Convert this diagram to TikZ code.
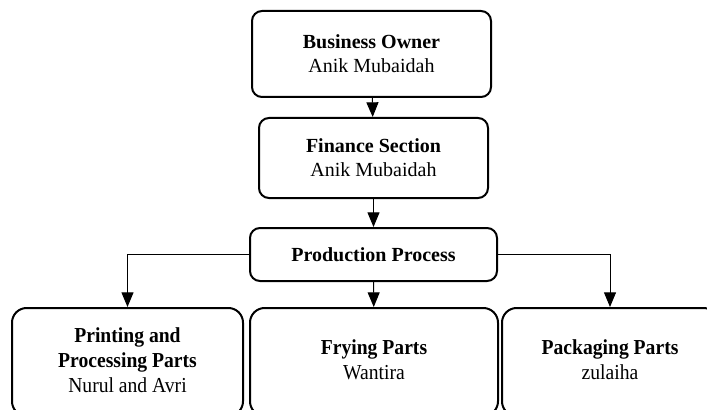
\documentclass[tikz,border=0pt]{standalone}
\usepackage{fontspec}
\setmainfont{Liberation Serif}
\usepackage{graphicx}
\usetikzlibrary{arrows.meta}
\tikzset{
  box/.style={draw, line width=1.5pt, rounded corners=7.5pt, align=center,
    inner sep=0pt, font=\fontsize{15}{18}\selectfont},
  bigbox/.style={box, rounded corners=11pt, font=\fontsize{16}{18.75}\selectfont},
  conn/.style={line width=0.75pt, -{Triangle[length=11pt,width=9pt]}}
}
\newcommand{\narrow}[1]{\scalebox{0.92}[1]{\begin{tabular}{@{}c@{}}#1\end{tabular}}}
\begin{document}
\begin{tikzpicture}[x=0.75pt,y=-0.75pt]
\useasboundingbox (0,0) rectangle (707,410);
\clip (0,0) rectangle (707,410);
\node[box, minimum width=239*0.75pt, minimum height=86*0.75pt] (owner) at (371.5,54)
  {\textbf{Business Owner}\\Anik Mubaidah};
\node[box, minimum width=229*0.75pt, minimum height=80*0.75pt] (finance) at (373.5,158)
  {\textbf{Finance Section}\\Anik Mubaidah};
\node[box, minimum width=247*0.75pt, minimum height=53*0.75pt] (prod) at (373.5,254.5)
  {\textbf{Production Process}};
\node[bigbox, minimum width=231*0.75pt, minimum height=108*0.75pt] (print) at (127.5,362)
  {\narrow{\textbf{Printing and}\\\textbf{Processing Parts}\\Nurul and Avri}};
\node[bigbox, minimum width=248*0.75pt, minimum height=108*0.75pt] (fry) at (374,362)
  {\narrow{\textbf{Frying Parts}\\Wantira}};
\node[bigbox, minimum width=216*0.75pt, minimum height=108*0.75pt] (pack) at (610,362)
  {\narrow{\textbf{Packaging Parts}\\zulaiha}};
\draw[conn] (owner) -- (finance);
\draw[conn] (finance) -- (prod);
\draw[conn] (prod) -- (fry);
\draw[conn] (prod.west) -| (print.north);
\draw[conn] (prod.east) -| (pack.north);
\end{tikzpicture}
\end{document}
